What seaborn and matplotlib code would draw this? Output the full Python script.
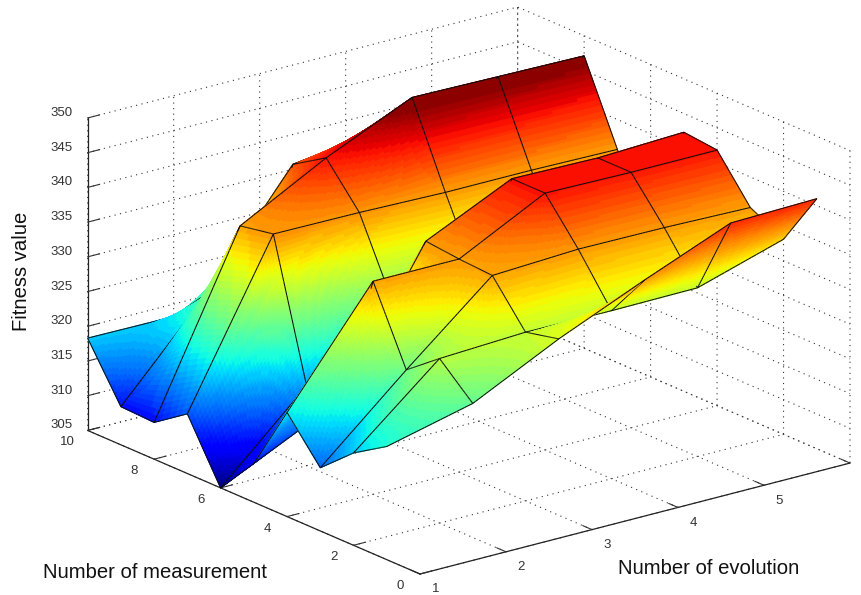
import numpy as np
import seaborn as sns
import matplotlib
matplotlib.use('Agg')
import matplotlib.pyplot as plt
from mpl_toolkits.mplot3d import proj3d
from mpl_toolkits.mplot3d.art3d import Poly3DCollection

sns.set_style('white')
plt.rcParams['font.family'] = ['Liberation Sans', 'DejaVu Sans']

# values
evolution = [1, 2, 3, 4, 5, 6]
measurement = [1, 2, 3, 4, 5, 6, 7, 8, 9, 10]
m1 = [321.3, 324.3, 330.4, 335.7, 340.7, 341.0]
m2 = [318.3, 328.7, 329.3, 329.2, 329.3, 333.1]
m3 = [314.1, 325.0, 335.4, 336.0, 335.9, 335.6]
m4 = [320.0, 335.7, 335.7, 342.0, 341.8, 341.8]
m5 = [310.6, 316.5, 336.2, 342.0, 341.8, 342.3]
m6 = [305.0, 316.5, 325.4, 325.0, 325.0, 325.0]
m7 = [313.6, 336.3, 336.2, 335.9, 335.9, 335.7]
m8 = [310.3, 335.4, 342.0, 347.5, 347.3, 347.1]
m9 = [310.5, 323.6, 339.0, 340.7, 341.0, 341.0]
m10 = [318.3, 318.2, 320.0, 320.0, 320.0, 320.0]
x_ticks = [1, 2, 3, 4, 5, 6]
x_labels = [1, 2, 3, 4, 5]  # the label of 6 falls outside the picture
y_ticks = [0, 2, 4, 6, 8, 10]
z_ticks = [305, 310, 315, 320, 325, 330, 335, 340, 345, 350]

W, H = 861, 595
ELEV, AZIM = 19.5, -127.7
BOX = (1, 1, 0.61)
fig = plt.figure(figsize=(W / 100, H / 100), dpi=100)
ax = fig.add_axes([0, 0, 1, 1], projection='3d')
ax.set_proj_type('ortho')
ax.view_init(elev=ELEV, azim=AZIM)
ax.set_xlim(1, 6, view_margin=0)
ax.set_ylim(0, 10, view_margin=0)
ax.set_zlim(305, 350, view_margin=0)
ax.set_box_aspect(BOX, zoom=1)


def to_pixels(x, y, z):
    xs, ys, _ = proj3d.proj_transform(x, y, z, ax.get_proj())
    return ax.transData.transform((xs, ys))


# fit the box to the reference: corner (1,0,305) at pixel (420,574), x axis 430 wide
fig.canvas.draw()
span = to_pixels(6, 0, 305)[0] - to_pixels(1, 0, 305)[0]
ax.set_box_aspect(BOX, zoom=430 / span)
fig.canvas.draw()
corner = to_pixels(1, 0, 305)
ax.set_position([(420 - corner[0]) / W, (H - 574 - corner[1]) / H, 1, 1])

# surface: fine quads give the interpolated shading, black mesh on the data lines
Z = np.array([m1, m2, m3, m4, m5, m6, m7, m8, m9, m10])
X, Y = np.meshgrid(evolution, measurement)
lut = sns.mpl_palette('jet', 64)
n = 32


def fine(A):
    t = np.linspace(0, 1, n + 1)
    rows = []
    for i in range(A.shape[0] - 1):
        for s in (t[:-1] if i < A.shape[0] - 2 else t):
            rows.append(A[i] * (1 - s) + A[i + 1] * s)
    rows = np.array(rows)
    cols = []
    for j in range(A.shape[1] - 1):
        for s in (t[:-1] if j < A.shape[1] - 2 else t):
            cols.append(rows[:, j] * (1 - s) + rows[:, j + 1] * s)
    return np.array(cols).T


FX, FY, FZ = fine(X.astype(float)), fine(Y.astype(float)), fine(Z)
verts, face, edge = [], [], []
for i in range(FX.shape[0] - 1):
    for j in range(FX.shape[1] - 1):
        ii = [i, i, i + 1, i + 1]
        jj = [j, j + 1, j + 1, j]
        verts.append(np.column_stack([FX[ii, jj], FY[ii, jj], FZ[ii, jj]]))
        level = (FZ[ii, jj].mean() - 305) / (346.2 - 305)
        c = lut[min(int(level * 64), 63)]
        face.append(c)
        edge.append(c)

# mesh pieces are moved along the line of sight so they sort in front of their faces
az, el = np.radians(AZIM), np.radians(ELEV)
toward = 0.012 * np.array([np.cos(el) * np.cos(az) * 5 / BOX[0],
                           np.cos(el) * np.sin(az) * 10 / BOX[1],
                           np.sin(el) * 45 / BOX[2]])
black = (0.05, 0.05, 0.05)
for i in range(FX.shape[0]):
    for j in range(FX.shape[1]):
        p = np.array([FX[i, j], FY[i, j], FZ[i, j]]) + toward
        if i % n == 0 and j < FX.shape[1] - 1:
            q = np.array([FX[i, j + 1], FY[i, j + 1], FZ[i, j + 1]]) + toward
            verts.append(np.array([p, q, q, p]))
            face.append(black)
            edge.append(black)
        if j % n == 0 and i < FX.shape[0] - 1:
            q = np.array([FX[i + 1, j], FY[i + 1, j], FZ[i + 1, j]]) + toward
            verts.append(np.array([p, q, q, p]))
            face.append(black)
            edge.append(black)

surf = Poly3DCollection(verts, facecolors=face, edgecolors=edge, linewidths=0.75)
ax.add_collection3d(surf, autolim=False)
surf.set_clip_on(False)

ax.set_xticks(x_ticks)
ax.set_yticks(y_ticks)
ax.set_zticks(z_ticks)
ax.set_xticklabels([])
ax.set_yticklabels([])
ax.set_zticklabels([])
for axis in (ax.xaxis, ax.yaxis, ax.zaxis):
    axis.pane.fill = False
    axis.pane.set_edgecolor('none')
    axis.line.set_color('#222222')
    axis.line.set_linewidth(0.9)
    axis._axinfo['grid'].update(color='#333333', linewidth=0.8, linestyle=(0, (1, 4)))
    axis._axinfo['tick'].update(inward_factor=0.0, outward_factor=0.35)
ax.grid(True)
ax.tick_params(axis='both', colors='#333333')
ax.zaxis.set_ticks_position('upper')


# tick labels sit at a fixed pixel offset from their tick, as in the reference
def tick_label(x, y, z, dx, dy, s):
    px, py = to_pixels(x, y, z)
    fig.text((px + dx) / W, (py + dy) / H, s, fontsize=9.5, color='#333333', ha='center', va='center')


fig.canvas.draw()
for t in x_labels:
    tick_label(t, 0, 305, 15.5, -15.5, str(t))
for t in y_ticks:
    tick_label(1, t, 305, -20, -12, str(t))
for t in z_ticks:
    tick_label(1, 10, t, -26, 5, str(t))

fig.text(155 / W, 1 - 572 / H, 'Number of measurement', fontsize=14.6, ha='center', va='center', color='#111111')
fig.text(709 / W, 1 - 569 / H, 'Number of evolution', fontsize=14.6, ha='center', va='center', color='#111111')
fig.text(22 / W, 1 - 271 / H, 'Fitness value', fontsize=14.6, rotation=90, ha='center', va='center', color='#111111')

fig.savefig('out.png', dpi=100)
